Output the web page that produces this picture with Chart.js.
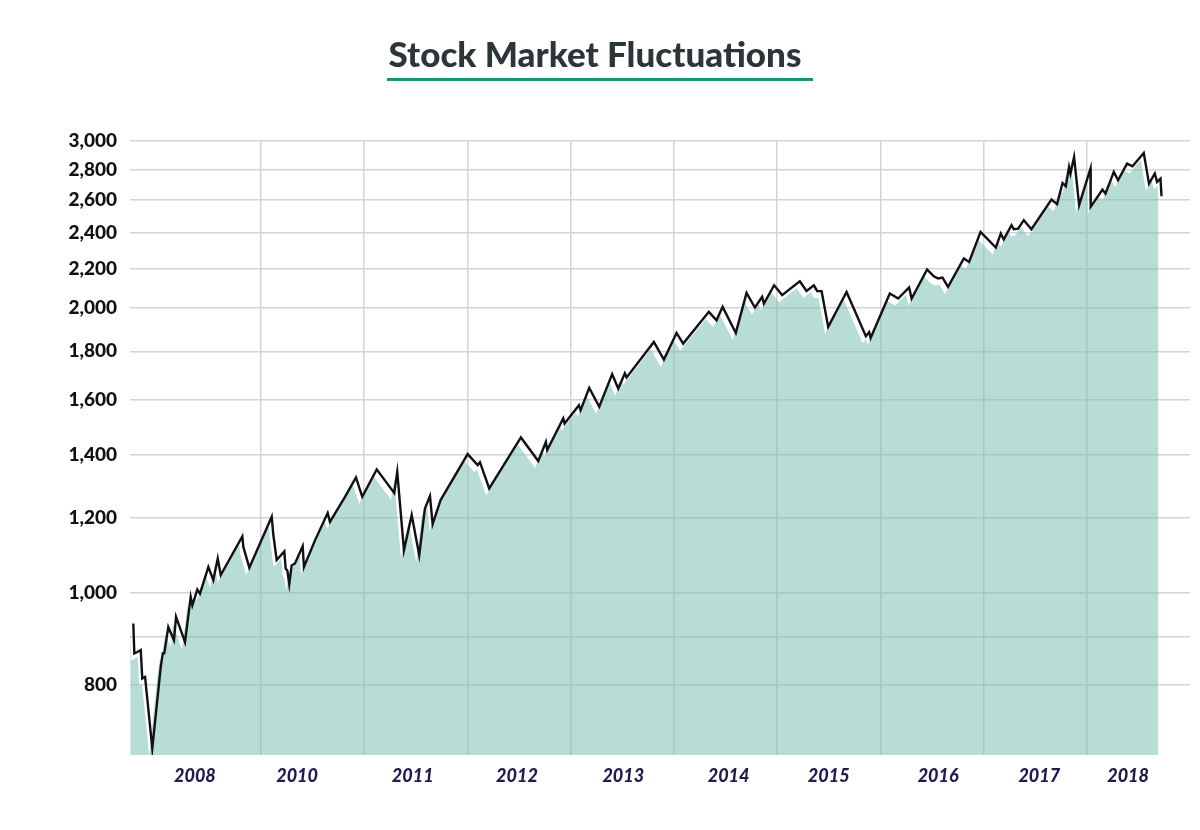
<!DOCTYPE html>
<html>
<head>
<meta charset="utf-8">
<title>Stock Market Fluctuations</title>
<script src="https://cdn.jsdelivr.net/npm/chart.js@4.4.0/dist/chart.umd.min.js"></script>
<style>
  body { margin: 0; background: #fff; }
  #wrap { position: relative; width: 1200px; height: 830px; }
  #title {
    position: absolute; left: 0; top: 33px; width: 1190px;
    text-align: center; font-family: Lato, sans-serif; font-weight: 900;
    font-size: 35px; color: #2c3638; line-height: 40px;
  }
  #rule { position: absolute; left: 387px; top: 78px; width: 426px; height: 3px; background: #16917c; }
  canvas { position: absolute; left: 0; top: 0; }
</style>
</head>
<body>
<div id="wrap">
  <canvas id="stock_chart" width="1200" height="830"></canvas>
  <div id="title">Stock Market Fluctuations</div>
  <div id="rule"></div>
</div>
<script>
// index level, x as fractional year
var dates = [
  2008.763, 2008.773, 2008.802, 2008.835, 2008.850, 2008.877, 2008.947, 2009.029, 2009.048, 2009.063,
  2009.102, 2009.157, 2009.177, 2009.264, 2009.319, 2009.335, 2009.383, 2009.409, 2009.490, 2009.538,
  2009.581, 2009.610, 2009.819, 2009.829, 2009.887, 2010.104, 2010.119, 2010.152, 2010.226, 2010.239,
  2010.255, 2010.274, 2010.297, 2010.329, 2010.404, 2010.416, 2010.523, 2010.646, 2010.668, 2010.814,
  2010.920, 2010.981, 2011.121, 2011.291, 2011.320, 2011.385, 2011.460, 2011.533, 2011.588, 2011.637,
  2011.663, 2011.740, 2012.002, 2012.099, 2012.121, 2012.211, 2012.518, 2012.686, 2012.760, 2012.773,
  2012.928, 2012.941, 2013.080, 2013.096, 2013.180, 2013.277, 2013.402, 2013.461, 2013.525, 2013.542,
  2013.806, 2013.903, 2014.026, 2014.090, 2014.339, 2014.413, 2014.472, 2014.600, 2014.704, 2014.785,
  2014.855, 2014.872, 2014.971, 2015.049, 2015.220, 2015.285, 2015.356, 2015.388, 2015.431, 2015.495,
  2015.673, 2015.860, 2015.892, 2015.906, 2016.092, 2016.173, 2016.279, 2016.303, 2016.453, 2016.518,
  2016.560, 2016.602, 2016.656, 2016.809, 2016.860, 2016.971, 2017.119, 2017.167, 2017.196, 2017.271,
  2017.293, 2017.335, 2017.390, 2017.464, 2017.658, 2017.712, 2017.765, 2017.797, 2017.828, 2017.842,
  2017.877, 2017.926, 2018.036, 2018.038, 2018.152, 2018.181, 2018.262, 2018.303, 2018.390, 2018.443,
  2018.552, 2018.603, 2018.659, 2018.681, 2018.714, 2018.724
];
var closes = [
  929, 864, 867, 871, 813, 816, 686, 836, 864, 864,
  921, 892, 944, 888, 991, 971, 1009, 999, 1066, 1032,
  1088, 1045, 1148, 1119, 1064, 1204, 1154, 1084, 1107, 1062,
  1057, 1022, 1070, 1075, 1121, 1066, 1137, 1215, 1189, 1264,
  1325, 1264, 1351, 1276, 1343, 1110, 1209, 1097, 1228, 1266,
  1183, 1254, 1402, 1365, 1375, 1290, 1460, 1379, 1444, 1416,
  1529, 1510, 1579, 1560, 1647, 1573, 1703, 1644, 1706, 1689,
  1841, 1764, 1882, 1834, 1981, 1941, 2005, 1882, 2074, 2002,
  2054, 2021, 2113, 2063, 2134, 2084, 2113, 2084, 2083, 1910,
  2079, 1867, 1886, 1859, 2071, 2046, 2102, 2046, 2196, 2160,
  2148, 2153, 2105, 2255, 2236, 2406, 2316, 2396, 2362, 2445,
  2421, 2425, 2475, 2421, 2602, 2573, 2709, 2688, 2817, 2772,
  2886, 2567, 2806, 2556, 2666, 2640, 2783, 2727, 2840, 2821,
  2914, 2705, 2772, 2716, 2738, 2623
];

var yearLabels = ["2008", "2010", "2011", "2012", "2013", "2014", "2015", "2016", "2017", "2018"];
var yearLabelAt = [2009.36, 2010.35, 2011.47, 2012.48, 2013.51, 2014.53, 2015.5, 2016.56, 2017.54, 2018.4];
var yearLines = [2010, 2011, 2012, 2013, 2014, 2015, 2016, 2017, 2018];
var priceTicks = [800, 900, 1000, 1200, 1400, 1600, 1800, 2000, 2200, 2400, 2600, 2800, 3000];
var unlabeledTicks = [900];

var linePoints = dates.map(function(d, i) { return {x: d, y: closes[i]}; });
// the shaded area sits a little below and left of the line
var areaPoints = dates.map(function(d, i) { return {x: d - 0.03, y: closes[i] * 0.983}; });

var X_MIN = 2008.731, X_MAX = 2019.0;

var ctx = document.getElementById("stock_chart").getContext("2d");
new Chart(ctx, {
  type: 'line',
  data: {
    datasets: [
      {
        data: linePoints,
        borderColor: '#111111',
        borderWidth: 2.4,
        pointRadius: 0,
        tension: 0,
        fill: false,
        xAxisID: 'x'
      },
      {
        data: areaPoints,
        borderWidth: 0,
        borderColor: 'rgba(0,0,0,0)',
        backgroundColor: 'rgba(122,192,179,0.54)',
        pointRadius: 0,
        tension: 0,
        fill: 'start',
        xAxisID: 'x'
      }
    ]
  },
  options: {
    responsive: false,
    animation: false,
    layout: { padding: { top: 141, right: 10, left: 0, bottom: 0 } },
    plugins: { legend: { display: false }, tooltip: { enabled: false } },
    scales: {
      x: {
        type: 'linear', min: X_MIN, max: X_MAX,
        afterBuildTicks: function(s) { s.ticks = yearLines.map(function(v) { return {value: v}; }); },
        afterFit: function(s) { s.height = 0; s.paddingLeft = 0; s.paddingRight = 0; },
        ticks: { display: false },
        grid: { color: '#d4d4d4', lineWidth: 1.5, drawTicks: false },
        border: { display: false }
      },
      x2: {
        type: 'linear', position: 'bottom', min: X_MIN, max: X_MAX,
        afterBuildTicks: function(s) { s.ticks = yearLabelAt.map(function(v) { return {value: v}; }); },
        afterFit: function(s) { s.height = 75; s.paddingLeft = 0; s.paddingRight = 0; },
        ticks: {
          autoSkip: false, maxRotation: 0, padding: 10, color: '#1f1b4d',
          font: { family: 'Lato', size: 18, weight: '900', style: 'italic' },
          callback: function(v) { return yearLabels[yearLabelAt.indexOf(v)]; }
        },
        grid: { display: false, drawTicks: false },
        border: { display: false }
      },
      y: {
        type: 'logarithmic', min: 675, max: 3000,
        afterBuildTicks: function(s) { s.ticks = priceTicks.map(function(v) { return {value: v}; }); },
        afterFit: function(s) { s.width = 130; },
        ticks: {
          padding: 13, color: '#111111',
          font: { family: 'Lato', size: 19, weight: '900' },
          callback: function(v) { return unlabeledTicks.indexOf(v) >= 0 ? '' : v.toLocaleString('en-US'); }
        },
        grid: { color: '#d4d4d4', lineWidth: 1.5, drawTicks: false },
        border: { display: false }
      }
    }
  }
});
</script>
</body>
</html>
